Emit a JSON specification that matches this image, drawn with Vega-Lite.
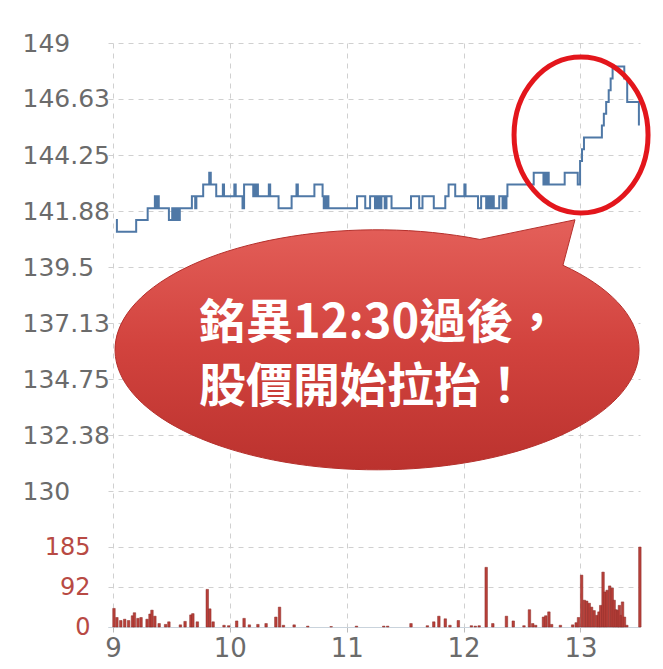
{
  "$schema": "https://vega.github.io/schema/vega-lite/v6.json",
  "width": 532,
  "height": 584,
  "autosize": {"type": "none"},
  "padding": {"left": 108, "top": 43, "right": 23, "bottom": 42},
  "background": "white",
  "config": {"view": {"stroke": null}},
  "datasets": {
    "price": [
      {"m":1.5,"p":141.5},{"m":2,"p":141},{"m":11.9,"p":141.5},{"m":17.8,"p":142},{"m":21.5,"p":142.5},{"m":22.2,"p":142},{"m":22.8,"p":142.5},{"m":23.5,"p":142},{"m":28.7,"p":141.5},{"m":30.4,"p":142},{"m":31,"p":141.5},{"m":31.7,"p":142},{"m":32.3,"p":141.5},{"m":33,"p":142},{"m":33.6,"p":141.5},{"m":34.3,"p":142},{"m":40.5,"p":142.5},{"m":42.2,"p":142},{"m":42.8,"p":142.5},{"m":46.3,"p":143},{"m":49.4,"p":143.5},{"m":50.2,"p":143},{"m":53,"p":142.5},{"m":56.4,"p":143},{"m":57,"p":142.5},{"m":62.3,"p":143},{"m":63,"p":142.5},{"m":66.5,"p":142},{"m":67.3,"p":143},{"m":72,"p":142.5},{"m":72.6,"p":143},{"m":73.2,"p":142.5},{"m":73.8,"p":143},{"m":74.4,"p":142.5},{"m":80,"p":143},{"m":80.7,"p":142.5},{"m":85,"p":142},{"m":91.7,"p":142.5},{"m":94.2,"p":143},{"m":94.9,"p":142.5},{"m":103.4,"p":143},{"m":107.6,"p":142.5},{"m":108.2,"p":142},{"m":108.8,"p":142.5},{"m":109.4,"p":142},{"m":110,"p":142.5},{"m":110.6,"p":142},{"m":125.3,"p":142.5},{"m":129.5,"p":142},{"m":132,"p":142.5},{"m":134.5,"p":142},{"m":135.2,"p":142.5},{"m":135.8,"p":142},{"m":136.5,"p":142.5},{"m":137.2,"p":142},{"m":137.8,"p":142.5},{"m":139.5,"p":142},{"m":140.4,"p":142.5},{"m":143,"p":142},{"m":153,"p":142.5},{"m":157.2,"p":142},{"m":158.9,"p":142.5},{"m":164.7,"p":142},{"m":170.6,"p":142.5},{"m":172.3,"p":143},{"m":175.7,"p":142.5},{"m":180.4,"p":143},{"m":181,"p":142.5},{"m":187.4,"p":142},{"m":189,"p":142.5},{"m":191.6,"p":142},{"m":192.5,"p":142.5},{"m":193.5,"p":142},{"m":194.5,"p":142.5},{"m":195.5,"p":142},{"m":198.3,"p":142.5},{"m":200,"p":142},{"m":200.6,"p":142.5},{"m":201.3,"p":142},{"m":202,"p":142.5},{"m":202.5,"p":143},{"m":216,"p":143.5},{"m":221,"p":143},{"m":221.7,"p":143.5},{"m":222.4,"p":143},{"m":223,"p":143.5},{"m":223.7,"p":143},{"m":231.9,"p":143.5},{"m":238.6,"p":143},{"m":239.8,"p":144},{"m":240.8,"p":144.5},{"m":241.8,"p":145},{"m":251,"p":145.5},{"m":252,"p":146},{"m":253.2,"p":146.5},{"m":254.5,"p":147},{"m":255.5,"p":147.5},{"m":256.5,"p":148},{"m":262.5,"p":147.5},{"m":264,"p":146.5},{"m":270,"p":145.5}
    ],
    "volume": [
      {"m":0.5,"v":43},{"m":2,"v":22},{"m":4,"v":15},{"m":6,"v":18},{"m":8,"v":15},{"m":10,"v":26},{"m":11,"v":33},{"m":12.8,"v":20},{"m":14.4,"v":22},{"m":17.5,"v":18},{"m":19,"v":30},{"m":20,"v":39},{"m":21.5,"v":25},{"m":23.7,"v":8},{"m":27,"v":6},{"m":28.7,"v":12},{"m":34.6,"v":5},{"m":37,"v":13},{"m":40,"v":28},{"m":41,"v":31},{"m":43.3,"v":12},{"m":48.4,"v":87},{"m":49.7,"v":42},{"m":51.4,"v":12},{"m":57,"v":4},{"m":59.4,"v":3},{"m":63.5,"v":14},{"m":67.3,"v":20},{"m":70,"v":5},{"m":74.4,"v":6},{"m":78.6,"v":8},{"m":83.6,"v":23},{"m":85.5,"v":46},{"m":87.5,"v":4},{"m":93,"v":5},{"m":100,"v":2},{"m":112,"v":1},{"m":125,"v":2},{"m":139,"v":2},{"m":141,"v":2},{"m":153,"v":8},{"m":161.4,"v":3},{"m":164.7,"v":12},{"m":167.3,"v":25},{"m":170.6,"v":19},{"m":173,"v":4},{"m":177.3,"v":15},{"m":184,"v":3},{"m":186,"v":2},{"m":188,"v":3},{"m":191.6,"v":138},{"m":195,"v":8},{"m":202,"v":25},{"m":205.5,"v":14},{"m":211,"v":3},{"m":213.8,"v":40},{"m":215.5,"v":8},{"m":217,"v":4},{"m":221,"v":23},{"m":222.2,"v":26},{"m":223.8,"v":35},{"m":225.2,"v":6},{"m":229.7,"v":4},{"m":236,"v":5},{"m":237.8,"v":10},{"m":239,"v":22},{"m":240.6,"v":120},{"m":242,"v":62},{"m":243.2,"v":60},{"m":244.5,"v":55},{"m":245.7,"v":46},{"m":247,"v":38},{"m":248.4,"v":27},{"m":249.5,"v":35},{"m":250.4,"v":50},{"m":251.6,"v":127},{"m":252.6,"v":81},{"m":253.7,"v":85},{"m":255,"v":95},{"m":256.3,"v":90},{"m":257.3,"v":62},{"m":258.3,"v":40},{"m":259.3,"v":38},{"m":260,"v":50},{"m":261,"v":27},{"m":261.6,"v":58},{"m":262.6,"v":23},{"m":263.8,"v":4},{"m":270.5,"v":185}
    ],
    "bubble": [{"m": 135.5, "p": 136.0}],
    "circle": [{"m": 240.3, "p": 145.1}],
    "notes": [
      {"m": 44.2, "p": 137.1, "t": "銘異12:30過後，"},
      {"m": 44.2, "p": 134.4, "t": "股價開始拉抬！"}
    ]
  },
  "resolve": {"scale": {"y": "independent"}, "axis": {"y": "independent"}},
  "layer": [
    {
      "data": {"name": "volume"},
      "mark": {"type": "bar", "width": 2.5, "fill": "#b8403a", "stroke": "#8a2a27", "strokeWidth": 0.5},
      "encoding": {
        "x": {"field": "m", "type": "quantitative", "scale": {"domain": [0, 268], "nice": false, "zero": false},
          "axis": {"values": [0, 60, 120, 180, 240], "labelExpr": "format(datum.value/60+9, 'd')", "title": null,
            "grid": true, "gridDash": [5, 5], "gridColor": "#d0d0d0", "domain": true, "domainColor": "#c9d3dc",
            "ticks": true, "tickSize": 5, "tickColor": "#bbbbbb", "labelFont": "DejaVu Sans", "labelFontSize": 26,
            "labelColor": "#6b6b6b", "labelPadding": 3}},
        "y": {"field": "v", "type": "quantitative", "scale": {"domain": [0, 1350.6], "nice": false},
          "axis": {"orient": "left", "values": [0, 92, 185], "format": "d", "title": null, "grid": true,
            "gridDash": [5, 5], "gridColor": "#d0d0d0", "domain": false, "ticks": false, "labelAlign": "right",
            "labelPadding": 18, "labelFont": "DejaVu Sans", "labelFontSize": 24, "labelColor": "#b84a44",
            "labelBaseline": "middle"}}
      }
    },
    {
      "data": {"name": "price"},
      "mark": {"type": "line", "interpolate": "step-after", "color": "#4f78a6", "strokeWidth": 2},
      "encoding": {
        "x": {"field": "m", "type": "quantitative"},
        "y": {"field": "p", "type": "quantitative", "scale": {"domain": [124.25, 149], "nice": false, "zero": false},
          "axis": {"orient": "left", "values": [130, 132.38, 134.75, 137.13, 139.5, 141.88, 144.25, 146.63, 149],
            "format": ".2~f", "title": null, "grid": true, "gridDash": [5, 5], "gridColor": "#d0d0d0", "domain": false,
            "ticks": false, "labelAlign": "left", "labelPadding": 86, "labelFont": "DejaVu Sans", "labelFontSize": 25,
            "labelColor": "#6b6b6b", "labelBaseline": "middle"}}
      }
    },
    {
      "mark": {"type": "rule", "color": "#aaaaaa", "strokeWidth": 1.5},
      "encoding": {
        "y": {"datum": 139.5, "type": "quantitative", "scale": {"domain": [124.25, 149], "nice": false, "zero": false}, "axis": null}
      }
    },
    {
      "mark": {"type": "rule", "color": "#b5b5b5", "strokeWidth": 1.5},
      "encoding": {
        "x": {"datum": 268, "type": "quantitative"}
      }
    },
    {
      "data": {"name": "bubble"},
      "mark": {"type": "point", "filled": true, "opacity": 1, "size": 274576,
        "shape": "M0.393,-0.421L0.756,-0.496L0.71,-0.3225A1,0.458,0,1,1,0.393,-0.421Z",
        "fill": {"gradient": "linear", "x1": 0, "y1": 0, "x2": 0, "y2": 1,
          "stops": [{"offset": 0, "color": "#e4605a"}, {"offset": 0.5, "color": "#d2433e"}, {"offset": 1, "color": "#bb322e"}]},
        "stroke": "#b5302c", "strokeWidth": 1},
      "encoding": {
        "x": {"field": "m", "type": "quantitative"},
        "y": {"field": "p", "type": "quantitative", "scale": {"domain": [124.25, 149], "nice": false, "zero": false}, "axis": null}
      }
    },
    {
      "data": {"name": "notes"},
      "mark": {"type": "text", "align": "left", "baseline": "middle", "font": "Noto Sans CJK TC", "fontWeight": "bold",
        "fontSize": 47, "color": "white"},
      "encoding": {
        "x": {"field": "m", "type": "quantitative"},
        "y": {"field": "p", "type": "quantitative", "scale": {"domain": [124.25, 149], "nice": false, "zero": false}, "axis": null},
        "text": {"field": "t"}
      }
    },
    {
      "data": {"name": "circle"},
      "mark": {"type": "point", "filled": false, "opacity": 1, "size": 17956,
        "shape": "M-1,0A1,1.164,0,1,1,1,0A1,1.164,0,1,1,-1,0Z",
        "stroke": "#e3161c", "strokeWidth": 5},
      "encoding": {
        "x": {"field": "m", "type": "quantitative"},
        "y": {"field": "p", "type": "quantitative", "scale": {"domain": [124.25, 149], "nice": false, "zero": false}, "axis": null}
      }
    }
  ]
}
